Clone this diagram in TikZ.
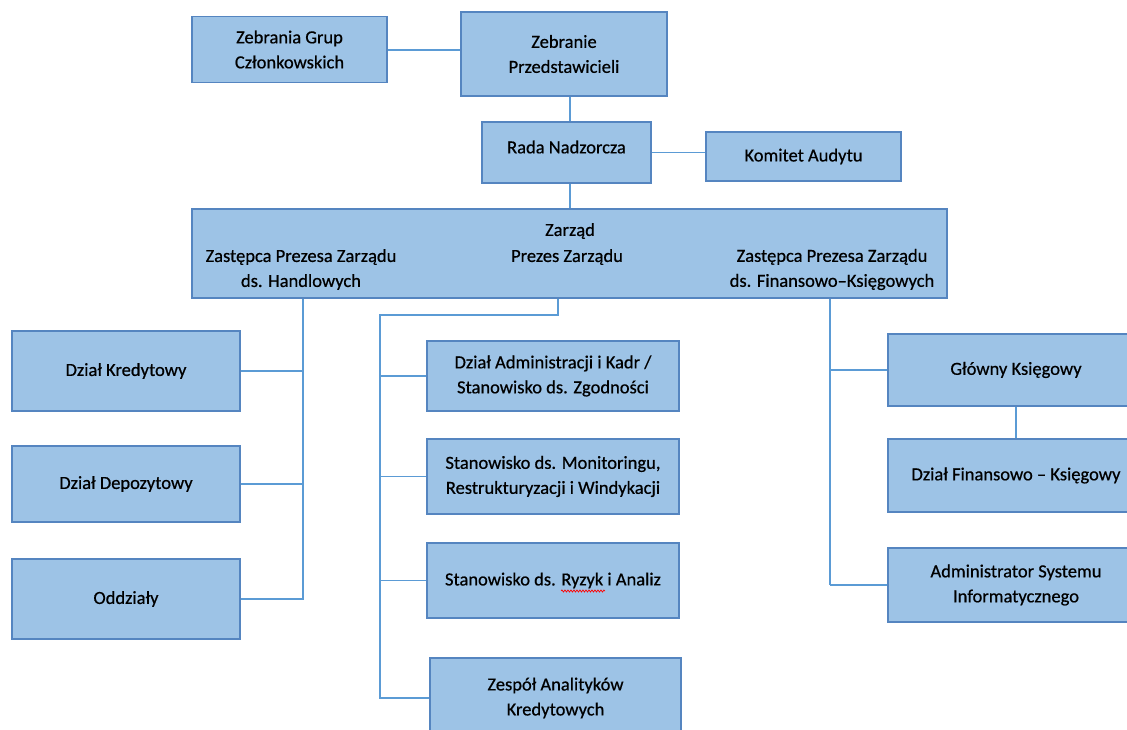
\documentclass[tikz,border=0pt]{standalone}
\usepackage{fontspec}
\setmainfont{Carlito}[FakeBold=0.6]
\usetikzlibrary{decorations.pathmorphing}
\definecolor{boxfill}{HTML}{9DC3E6}
\definecolor{boxline}{HTML}{5585C0}
\definecolor{connline}{HTML}{5B9BD5}
\tikzset{
  box/.style={draw=boxline, line width=1.6pt, fill=boxfill, align=center, inner sep=0pt,
    font=\fontsize{18.5}{25}\selectfont, text=black},
  txt/.style={align=center, inner sep=0pt, font=\fontsize{18.5}{25}\selectfont, text=black},
  conn/.style={draw=connline, line width=1.3pt},
  spell/.style={draw=red, line width=0.7pt, decorate, decoration={snake, amplitude=1pt, segment length=3pt}}
}
\begin{document}
\begin{tikzpicture}[x=1pt,y=-1pt]
\clip (0,0) rectangle (1127,730);
\fill[white] (0,0) rectangle (1127,730);
% top
\node[box, minimum width=195, minimum height=66] (zg) at (289.5,49.5) {Zebrania Grup\\Członkowskich};
\node[box, minimum width=206, minimum height=84] (zp) at (564,54) {Zebranie\\Przedstawicieli};
\node[box, minimum width=169, minimum height=61] (rn) at (566.5,152.5) {};
\node[txt] (rnt) at (566.5,147) {Rada Nadzorcza};
\node[box, minimum width=195, minimum height=49] (ka) at (803.5,156.5) {Komitet Audytu};
% board
\node[box, minimum width=755, minimum height=89] (zr) at (569.5,253.5) {};
\node[txt] (zrt) at (570,231) {Zarząd};
\node[txt] (pzt) at (567,257) {Prezes Zarządu};
\node[txt] (zlt) at (301,269.5) {Zastępca Prezesa Zarządu\\ds. Handlowych};
\node[txt] (zrt2) at (832,269.5) {Zastępca Prezesa Zarządu\\ds. Finansowo--Księgowych};
% left column
\node[box, minimum width=228, minimum height=80] (dk) at (126,371) {Dział Kredytowy};
\node[box, minimum width=228, minimum height=76] (dd) at (126,484) {Dział Depozytowy};
\node[box, minimum width=228, minimum height=80] (od) at (126,599) {Oddziały};
% middle column
\node[box, minimum width=252, minimum height=70] (da) at (553,376) {Dział Administracji i Kadr /\\Stanowisko ds. Zgodności};
\node[box, minimum width=252, minimum height=75] (sm) at (553,476.5) {Stanowisko ds. Monitoringu,\\Restrukturyzacji i Windykacji};
\node[box, minimum width=252, minimum height=75] (sr) at (553,580.5) {Stanowisko ds. Ryzyk i Analiz};
\node[box, minimum width=251, minimum height=80] (za) at (555.5,698) {Zespół Analityków\\Kredytowych};
% right column
\node[box, minimum width=256, minimum height=72] (gk) at (1016,370) {Główny Księgowy};
\node[box, minimum width=256, minimum height=73] (df) at (1016,475.5) {Dział Finansowo -- Księgowy};
\node[box, minimum width=256, minimum height=74] (as) at (1016,585) {Administrator Systemu\\Informatycznego};
% helper coordinates
\coordinate (cx) at (570,0);
\coordinate (L) at (303,600);
\coordinate (Mtop) at (558,315);
\coordinate (M) at (380,699);
\coordinate (R) at (830,585);
% connectors
\draw[conn] (zg.east |- 0,50) -- (zp.west |- 0,50);
\draw[conn] (zp.south -| cx) -- (rn.north -| cx);
\draw[conn] (rn.east) -- (rn.east -| ka.west);
\draw[conn] (rn.south -| cx) -- (zr.north -| cx);
% left trunk
\draw[conn] (zr.south -| L) -- (L);
\draw[conn] (dk.east) -- (dk.east -| L);
\draw[conn] (dd.east) -- (dd.east -| L);
\draw[conn] (od.east) -- (od.east -| L);
% middle trunk
\draw[conn] (zr.south -| Mtop) -- (Mtop) -- (Mtop -| M) -- (M);
\draw[conn] (da.west) -- (da.west -| M);
\draw[conn] (sm.west) -- (sm.west -| M);
\draw[conn] (sr.west) -- (sr.west -| M);
\draw[conn] (za.west) -- (za.west -| M);
% right trunk
\draw[conn] (zr.south -| R) -- (R);
\draw[conn] (gk.west) -- (gk.west -| R);
\draw[conn] (as.west) -- (as.west -| R);
\draw[conn] (gk.south) -- (df.north);
% spell-check mark
\draw[spell] (561,591) -- (605,591);
\end{tikzpicture}
\end{document}
